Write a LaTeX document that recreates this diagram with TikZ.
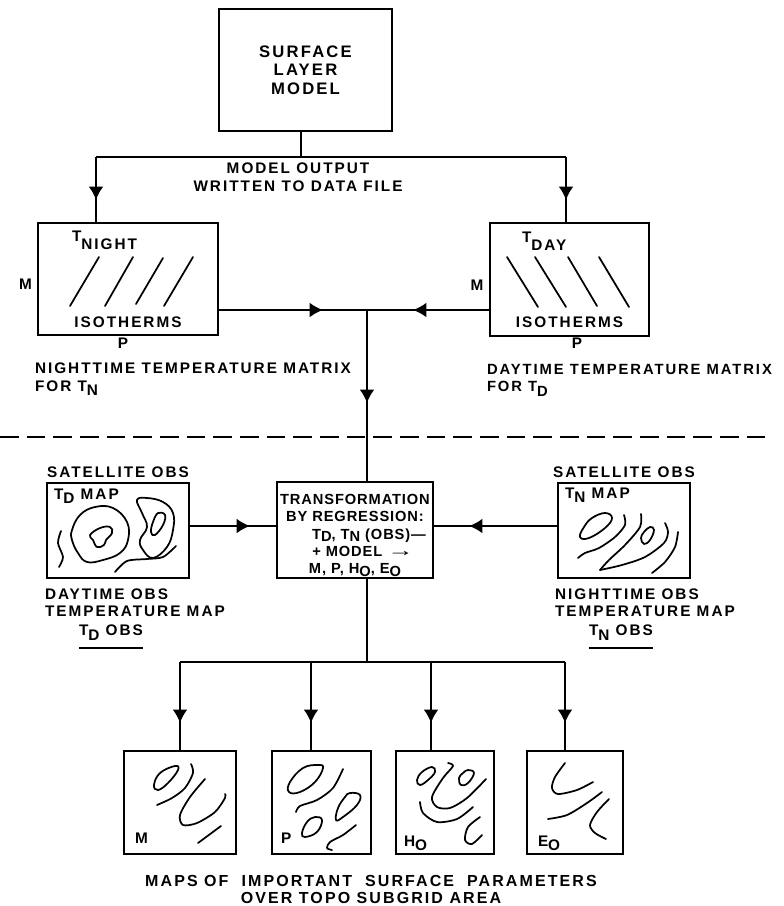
\documentclass[tikz,border=0pt]{standalone}
\usepackage{fontspec}
\setmainfont[LetterSpace=13]{Liberation Sans}
\newfontfamily\tightfont[LetterSpace=6]{Liberation Sans}
\usetikzlibrary{arrows.meta,positioning,decorations.markings}
\newcommand{\low}[1]{\raisebox{-3.5pt}{#1}}
\newcommand{\lowt}[1]{\raisebox{-2pt}{#1}}
\tikzset{
box/.style={draw,line width=1.5pt,inner sep=0,outer sep=0,align=center,font=\fontsize{12.5}{14}\selectfont\bfseries},
note/.style={inner sep=0,outer sep=0,font=\fontsize{11.5}{13}\selectfont\bfseries},
wire/.style={line width=1.3pt},
head/.style={postaction={decorate},decoration={markings,mark=at position #1 with {\arrow{Latex[length=10pt,width=11pt]}}}},
contour/.style={line width=1.3pt,line cap=round,line join=round},
loopy/.style={contour,smooth cycle,tension=.7}
}
\begin{document}
\begin{tikzpicture}[x=.75pt,y=-.75pt]
\useasboundingbox (0,0) rectangle (784,906);
\node[box,minimum width=129.75pt,minimum height=91.5pt] (surface) at (305.5,70) {SURFACE\\LAYER\\MODEL};
\node[box,minimum width=135pt,minimum height=84pt,below left=69pt and .75pt of surface] (tnight) {};
\node[box,minimum width=119.25pt,minimum height=84.75pt,below right=69pt and 73.5pt of surface] (tday) {};
\node[box,minimum width=117pt,minimum height=72pt,below right=110.25pt and 44.25pt of tnight,font=\fontsize{11}{13}\selectfont\bfseries\tightfont] (transform) {\rule{0pt}{16pt}TRANSFORMATION\\BY REGRESSION:\\\hspace*{21pt}T\lowt{D}, T\lowt{N} (OBS)—\\\hspace*{12pt}+ MODEL \scalebox{1.8}[1.2]{→}\\M, P, H\lowt{O}, E\lowt{O}};
\node[box,minimum width=106.5pt,minimum height=71.25pt,left=66pt of transform] (tdmap) {};
\node[box,minimum width=99pt,minimum height=71.25pt,right=93.75pt of transform] (tnmap) {};
\node[box,minimum width=84pt,minimum height=77.25pt,below left=129.75pt and 30.75pt of transform] (mapm) {};
\node[box,minimum width=74.25pt,minimum height=77.25pt,right=27pt of mapm] (mapp) {};
\node[box,minimum width=73.5pt,minimum height=77.25pt,right=18.75pt of mapp] (maph) {};
\node[box,minimum width=72pt,minimum height=77.25pt,right=24.75pt of maph] (mape) {};
% labels
\node[note,align=center,below=24pt of surface,xshift=-5.6pt] (outputnote) {MODEL OUTPUT\\WRITTEN TO DATA FILE};
\node[note,below right=6pt and 25.5pt of tnight.north west] (tnightlab) {T\raisebox{-6pt}{NIGHT}};
\node[note,below right=6.75pt and 24pt of tday.north west] (tdaylab) {T\raisebox{-6pt}{DAY}};
\node[note,above=5.25pt of tnight.south] (isonight) {ISOTHERMS};
\node[note,above=6pt of tday.south] (isoday) {ISOTHERMS};
\node[note,left=4.5pt of tnight,yshift=-3.75pt] (mnight) {M};
\node[note,left=5pt of tday,yshift=-4.5pt] (mday) {M};
\node[note,below=2.25pt of tnight,xshift=-3.75pt] (pnight) {P};
\node[note,below=1.5pt of tday,xshift=5.6pt] (pday) {P};
\node[note,align=left,below right=21pt and -2.25pt of tnight.south west] (nightnote) {NIGHTTIME TEMPERATURE MATRIX\\FOR T\low{N}};
\node[note,align=left,below right=21pt and -2.25pt of tday.south west,font=\fontsize{11.1}{13}\selectfont\bfseries] (daynote) {DAYTIME TEMPERATURE MATRIX\\FOR T\low{D}};
\node[note,above=3.75pt of tdmap] (satleft) {SATELLITE OBS};
\node[note,above=3.75pt of tnmap] (satright) {SATELLITE OBS};
\node[note,below right=4.5pt and 5.25pt of tdmap.north west] (tdmaplab) {T\low{D}\ MAP};
\node[note,below right=3.75pt and 5.25pt of tnmap.north west] (tnmaplab) {T\low{N}\ MAP};
\node[note,align=left,below right=8.25pt and -1.5pt of tdmap.south west] (tdnote) {DAYTIME OBS\\TEMPERATURE MAP};
\node[note,align=left,below right=8.25pt and -2.25pt of tnmap.south west] (tnnote) {NIGHTTIME OBS\\TEMPERATURE MAP};
\node[note,below right=6pt and 25.5pt of tdnote.south west] (tdobs) {T\low{D} OBS};
\node[note,below right=6pt and 25.5pt of tnnote.south west] (tnobs) {T\low{N} OBS};
\node[note,above right=8.25pt and 8.25pt of mapm.south west] (labm) {M};
\node[note,above right=8.25pt and 6.75pt of mapp.south west] (labp) {P};
\node[note,above right=2.25pt and 6pt of maph.south west] (labh) {H\low{O}};
\node[note,above right=2.25pt and 8.25pt of mape.south west] (labe) {E\low{O}};
\node[note,align=center,below=15.75pt of mapp,xshift=37.1pt,font=\fontsize{12}{13}\selectfont\bfseries] (mapsnote) {MAPS OF\ \ IMPORTANT\ \ SURFACE\ \ PARAMETERS\\OVER TOPO SUBGRID AREA};
\draw[wire] ([yshift=-6pt]tdobs.south west) -- ([yshift=-6pt]tdobs.south east);
\draw[wire] ([yshift=-6pt]tnobs.south west) -- ([yshift=-6pt]tnobs.south east);
% connectors
\coordinate (busm) at (301,157);
\coordinate (busl) at (96,157);
\coordinate (busr) at (566,157);
\coordinate (junction) at (367,310);
\coordinate (obsrow) at (355,526);
\coordinate (lowbus) at (367,662);
\coordinate (lowl) at (180,662);
\coordinate (lowp) at (311,662);
\coordinate (lowh) at (431,662);
\coordinate (lowr) at (565,662);
\coordinate (dashl) at (0,437);
\coordinate (dashr) at (767,437);
\draw[wire] (busm |- surface.south) -- (busm);
\draw[wire] (busl) -- (busr);
\draw[wire,head=32.25pt] (busl) -- (busl |- tnight.north);
\draw[wire,head=32.25pt] (busr) -- (busr |- tday.north);
\draw[wire,head=78.75pt] (tnight.east |- junction) -- (junction);
\draw[wire,head=57.75pt] (tday.west |- junction) -- (junction);
\draw[wire,head=69.75pt] (junction) -- (junction |- transform.north);
\draw[wire,head=45.75pt] (tdmap.east |- obsrow) -- (transform.west |- obsrow);
\draw[wire,head=66.75pt] (tnmap.west |- obsrow) -- (transform.east |- obsrow);
\draw[wire] (lowbus |- transform.south) -- (lowbus);
\draw[wire] (lowl) -- (lowr);
\draw[wire,head=45.75pt] (lowl) -- (lowl |- mapm.north);
\draw[wire,head=45.75pt] (lowp) -- (lowp |- mapp.north);
\draw[wire,head=45.75pt] (lowh) -- (lowh |- maph.north);
\draw[wire,head=45.75pt] (lowr) -- (lowr |- mape.north);
\draw[wire,dash pattern=on 14pt off 6pt] (dashl) -- (dashr);
% isotherms
\draw[contour] (70,306) -- (99,257);
\draw[contour] (105,306) -- (133,257);
\draw[contour] (136,304) -- (163,258);
\draw[contour] (164,306) -- (193,257);
\draw[contour] (507,257) -- (538,307);
\draw[contour] (535,257) -- (566,307);
\draw[contour] (568,257) -- (597,306);
\draw[contour] (599,257) -- (629,307);
% daytime obs map
\draw[loopy] plot coordinates {(95,507) (113,508) (127,522) (128,540) (120,553) (103,560) (87,562) (78,553) (72,540) (72,530) (80,515)};
\draw[loopy] plot coordinates {(100,528) (110,527) (112,533) (106,540) (104,545) (97,547) (93,540) (90,535)};
\draw[contour] plot[smooth] coordinates {(61,531) (58,543) (63,557) (59,567)};
\draw[loopy] plot coordinates {(137,500) (147,498) (163,502) (173,513) (173,530) (167,547) (153,558) (143,550) (140,540) (147,527) (142,513)};
\draw[loopy] plot coordinates {(158,513) (165,515) (163,525) (155,535) (151,532) (153,522)};
\draw[contour] plot[smooth] coordinates {(115,572) (127,561) (147,559) (163,557) (176,546)};
% nighttime obs map
\draw[loopy] plot coordinates {(605,513) (612,518) (605,528) (589,538) (580,537) (584,527) (592,518)};
\draw[contour] plot[smooth] coordinates {(624,515) (625,525) (615,537) (599,548) (585,553) (578,558)};
\draw[contour] plot[smooth] coordinates {(641,514) (640,527) (625,545) (609,560) (600,570)};
\draw[contour] plot[smooth] coordinates {(600,570) (622,565) (645,557) (664,543) (668,532) (665,523)};
\draw[loopy] plot coordinates {(650,527) (654,530) (650,540) (644,544) (641,538) (644,532)};
\draw[contour] plot[smooth] coordinates {(678,532) (675,547) (665,562) (652,573)};
% M
\draw[loopy] plot coordinates {(175,766) (178,770) (168,783) (158,790) (154,785) (160,773)};
\draw[contour] plot[smooth] coordinates {(191,764) (193,773) (185,788) (172,798) (157,805)};
\draw[contour] plot[smooth] coordinates {(205,779) (190,797) (180,815) (183,825) (197,823) (215,812) (225,798) (225,794)};
\draw[contour] (221,826) -- (198,843);
% P
\draw[loopy] plot coordinates {(318,765) (323,768) (315,782) (300,792) (289,792) (290,782) (303,768)};
\draw[contour] plot[smooth] coordinates {(343,769) (333,788) (317,800) (300,806) (296,812)};
\draw[loopy] plot coordinates {(315,817) (322,820) (317,832) (305,837) (302,833) (307,822)};
\draw[loopy] plot coordinates {(350,793) (360,795) (357,805) (343,817) (336,820) (338,808) (345,797)};
\draw[contour] plot[smooth] coordinates {(356,825) (343,835) (330,842) (327,848) (332,850)};
% H
\draw[loopy] plot coordinates {(432,767) (435,772) (428,780) (420,785) (417,780) (422,772)};
\draw[contour] plot[smooth] coordinates {(448,763) (453,766) (443,778) (432,797) (437,807) (450,808) (467,798) (486,779)};
\draw[loopy] plot coordinates {(468,770) (474,773) (468,783) (461,785) (459,778) (463,773)};
\draw[contour] plot[smooth] coordinates {(420,802) (423,813) (437,822) (457,819) (473,807)};
\draw[contour] plot[smooth] coordinates {(480,817) (468,827) (465,840) (472,844) (482,835)};
% E
\draw[contour] plot[smooth] coordinates {(565,763) (555,777) (552,788) (558,794) (577,790) (593,782)};
\draw[contour] plot[smooth] coordinates {(602,792) (587,803) (567,815) (548,819)};
\draw[contour] plot[smooth] coordinates {(609,799) (597,812) (590,825) (595,833) (606,839)};
\end{tikzpicture}
\end{document}
